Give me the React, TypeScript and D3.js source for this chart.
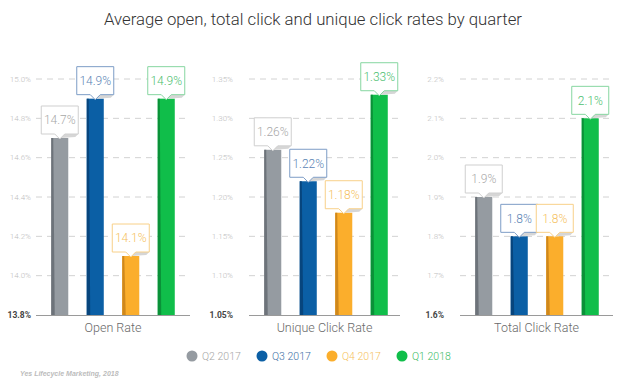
import React from "react";
import * as d3 from "d3";

const quarters = ["Q2 2017", "Q3 2017", "Q4 2017", "Q1 2018"];
const metrics = ["Open Rate", "Unique Click Rate", "Total Click Rate"];
const openRate = [14.7, 14.9, 14.1, 14.9];
const uniqueClickRate = [1.26, 1.22, 1.18, 1.33];
const totalClickRate = [1.9, 1.8, 1.8, 2.1];
const openLabels = ["14.7%", "14.9%", "14.1%", "14.9%"];
const uniqueLabels = ["1.26%", "1.22%", "1.18%", "1.33%"];
const totalLabels = ["1.9%", "1.8%", "1.8%", "2.1%"];
const openTicks = [13.8, 14.0, 14.2, 14.4, 14.6, 14.8, 15.0];
const uniqueTicks = [1.05, 1.1, 1.15, 1.2, 1.25, 1.3, 1.35];
const totalTicks = [1.6, 1.7, 1.8, 1.9, 2.0, 2.1, 2.2];
const openTickFmt = ".1f";
const uniqueTickFmt = ".2f";
const totalTickFmt = ".1f";

const barColors = ["#959ba1", "#0b5fa5", "#fbae2c", "#10be4a"];
const barDark = ["#6d737a", "#07457d", "#cf881c", "#0a9138"];
const boxBorder = ["#cfcfcf", "#7d9dc6", "#f8d088", "#86d6a0"];
const boxText = ["#a8a8a8", "#5b84b5", "#f5bf60", "#4cc070"];
const legendText = ["#a6a6a6", "#3e6fa5", "#f6bf5c", "#3dbb64"];

const panels = [
  { name: metrics[0], values: openRate, labels: openLabels, ticks: openTicks, fmt: openTickFmt, gx0: 36, gx1: 190, lx: 31 },
  { name: metrics[1], values: uniqueClickRate, labels: uniqueLabels, ticks: uniqueTicks, fmt: uniqueTickFmt, gx0: 249, gx1: 400, lx: 233 },
  { name: metrics[2], values: totalClickRate, labels: totalLabels, ticks: totalTicks, fmt: totalTickFmt, gx0: 460, gx1: 613, lx: 444 },
];

const Y0 = 315;
const Y1 = 79;
const FONT = "Roboto, 'DejaVu Sans', sans-serif";

function Panel({ p }: { p: (typeof panels)[number] }) {
  const y = d3
    .scaleLinear()
    .domain([p.ticks[0], p.ticks[p.ticks.length - 1]])
    .range([Y0, Y1]);
  const bandStart = p.gx0 + 6;
  const x = d3
    .scaleBand<string>()
    .domain(quarters)
    .range([bandStart, bandStart + 142])
    .paddingInner(0.52)
    .paddingOuter(0.26);
  const fmt = d3.format(p.fmt);
  const bw = x.bandwidth();
  const boxW = 37;
  const boxH = 28;
  return (
    <g>
      {p.ticks.map((t, i) => (
        <g key={i}>
          {i > 0 && (
            <line
              x1={p.gx0}
              x2={p.gx1}
              y1={y(t)}
              y2={y(t)}
              stroke="#d2d2d2"
              strokeWidth={1}
              strokeDasharray="6,5"
            />
          )}
          <text
            x={p.lx}
            y={y(t)}
            dy="0.35em"
            textAnchor="end"
            fontSize={i === 0 ? 8.5 : 8}
            fontWeight={i === 0 ? 700 : 300}
            fill={i === 0 ? "#444" : "#bdbdbd"}
            fontFamily={FONT}
          >
            {fmt(t) + "%"}
          </text>
        </g>
      ))}
      {p.values.map((v, i) => {
        const bx = x(quarters[i])!;
        const top = y(v);
        return (
          <g key={"b" + i}>
            <rect x={bx} y={top} width={bw} height={Y0 - top} fill={barColors[i]} />
            <polygon
              points={`${bx},${top} ${bx + 2},${top} ${bx + 3.5},${Y0} ${bx},${Y0}`}
              fill={barDark[i]}
            />
          </g>
        );
      })}
      <line x1={p.gx0} x2={p.gx1} y1={Y0 + 0.5} y2={Y0 + 0.5} stroke="#9a9a9a" strokeWidth={1} />
      {p.values.map((v, i) => {
        const cx = x(quarters[i])! + bw / 2;
        const top = y(v);
        const bottom = top - 4;
        const left = cx - boxW / 2;
        const right = cx + boxW / 2;
        return (
          <g key={"l" + i}>
            <polygon
              points={`${cx + 3},${bottom} ${right},${bottom} ${right - 3},${bottom + 3} ${cx + 1},${bottom + 4}`}
              fill="#d6d6d6"
            />
            <path
              d={`M${left},${bottom - boxH} H${right} V${bottom} H${cx + 5} L${cx},${bottom + 5} L${cx - 5},${bottom} H${left} Z`}
              fill="#fff"
              stroke={boxBorder[i]}
              strokeWidth={1}
            />
            <text
              x={cx}
              y={bottom - boxH / 2}
              dy="0.36em"
              textAnchor="middle"
              fontSize={12}
              fontWeight={300}
              fill={boxText[i]}
              fontFamily={FONT}
            >
              {p.labels[i]}
            </text>
          </g>
        );
      })}
      <text
        x={(p.gx0 + p.gx1) / 2}
        y={332}
        textAnchor="middle"
        fontSize={12.5}
        fill="#6a6a6a"
        fontFamily={FONT}
        fontWeight={300}
      >
        {p.name}
      </text>
    </g>
  );
}

export default function App() {
  const legendX = d3.scalePoint<string>().domain(quarters).range([192, 402]);
  return (
    <svg
      width={630}
      height={390}
      style={{ position: "absolute", left: 0, top: 0, background: "#fff" }}
    >
      <text
        x={313}
        y={25}
        textAnchor="middle"
        fontSize={17}
        fontWeight={300}
        fill="#333"
        fontFamily={FONT}
        textLength={418}
        lengthAdjust="spacingAndGlyphs"
      >
        Average open, total click and unique click rates by quarter
      </text>
      {panels.map((p, i) => (
        <Panel key={i} p={p} />
      ))}
      {quarters.map((q, i) => (
        <g key={q}>
          <circle cx={legendX(q)} cy={356} r={5.5} fill={barColors[i]} />
          <text
            x={legendX(q)! + 10}
            y={356}
            dy="0.35em"
            fontSize={10.5}
            fill={legendText[i]}
            fontFamily={FONT}
            fontWeight={300}
          >
            {q}
          </text>
        </g>
      ))}
      <text
        x={20}
        y={376}
        fontSize={7}
        fontStyle="italic"
        fontWeight={700}
        fill="#bcbcbc"
        fontFamily="'Liberation Sans', Arial, sans-serif"
      >
        Yes Lifecycle Marketing, 2018
      </text>
    </svg>
  );
}
